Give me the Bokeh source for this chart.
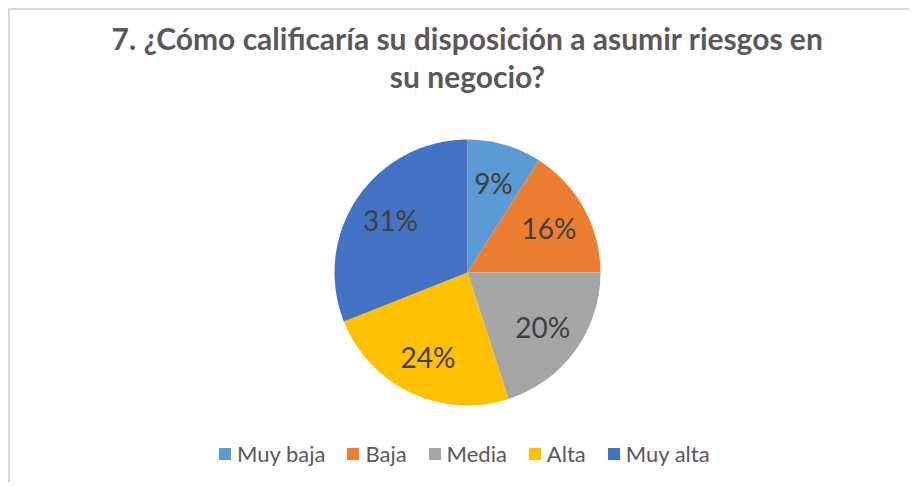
import math
from bokeh.plotting import figure
from bokeh.models import Range1d, Legend, LegendItem, Label, ColumnDataSource
from bokeh.core.properties import value
from bokeh.embed import file_html
from bokeh.resources import INLINE

# ---- data ----
categories = ["Muy baja", "Baja", "Media", "Alta", "Muy alta"]
percentages = [9, 16, 20, 24, 31]
colors = ["#5B9BD5", "#ED7D31", "#A5A5A5", "#FFC000", "#4472C4"]
title_lines = ["7. ¿Cómo calificaría su disposición a asumir riesgos en", "su negocio?"]

# ---- layout constants (pixels) ----
W, H = 901, 474
CX, CY = 457, 262      # pie centre inside canvas (from top-left)
R = 133                # pie radius in px

total = float(sum(percentages))
starts, ends, lx, ly, labels = [], [], [], [], []
cum = 0.0
for v in percentages:
    a0 = math.pi / 2 - 2 * math.pi * cum / total
    cum += v
    a1 = math.pi / 2 - 2 * math.pi * cum / total
    starts.append(a0)
    ends.append(a1)
    mid = (a0 + a1) / 2
    lx.append(0.7 * math.cos(mid))
    ly.append(0.7 * math.sin(mid))
    labels.append(f"{v}%")

src = ColumnDataSource(dict(cat=categories, start=starts, end=ends, color=colors,
                            lx=lx, ly=ly, lab=labels))

p = figure(width=W, height=H, output_backend="svg", toolbar_location=None,
           x_range=Range1d(-CX / R, (W - CX) / R),
           y_range=Range1d(-(H - CY) / R, CY / R),
           min_border=0, outline_line_color=None)
p.axis.visible = False
p.grid.visible = False
p.background_fill_color = "white"
p.border_fill_color = "white"
p.styles = {"margin-left": "8px", "margin-top": "8px",
            "border-left": "2px solid #d9d9d9", "border-top": "2px solid #d9d9d9"}

wedges = []
for i in range(len(categories)):
    r = p.wedge(x=0, y=0, radius=1, start_angle=starts[i], end_angle=ends[i],
                direction="clock", fill_color=colors[i], line_color=None)
    wedges.append(r)

p.text(x="lx", y="ly", text="lab", source=src, text_align="center",
       text_baseline="middle", text_font=value("Lato"), text_font_size="28px",
       text_color="#404040")

legend = Legend(items=[LegendItem(label=categories[i], renderers=[wedges[i]]) for i in range(len(categories))],
                orientation="horizontal", location=(207, 17),
                label_text_font="Lato", label_text_font_size="22px", label_text_color="#595959",
                glyph_width=15, glyph_height=15, label_standoff=5, spacing=20,
                padding=0, margin=0, border_line_color=None, background_fill_alpha=0)
p.add_layout(legend, "center")

for j, (txt, yy) in enumerate(zip(title_lines, [H - 27, H - 65])):
    p.add_layout(Label(x=CX, y=yy, x_units="screen", y_units="screen", text=txt,
                       text_align="center", text_baseline="middle",
                       text_font="Lato", text_font_style="bold", text_font_size="30px",
                       text_color="#595959"))

open("out.html", "w").write(file_html(p, INLINE))
